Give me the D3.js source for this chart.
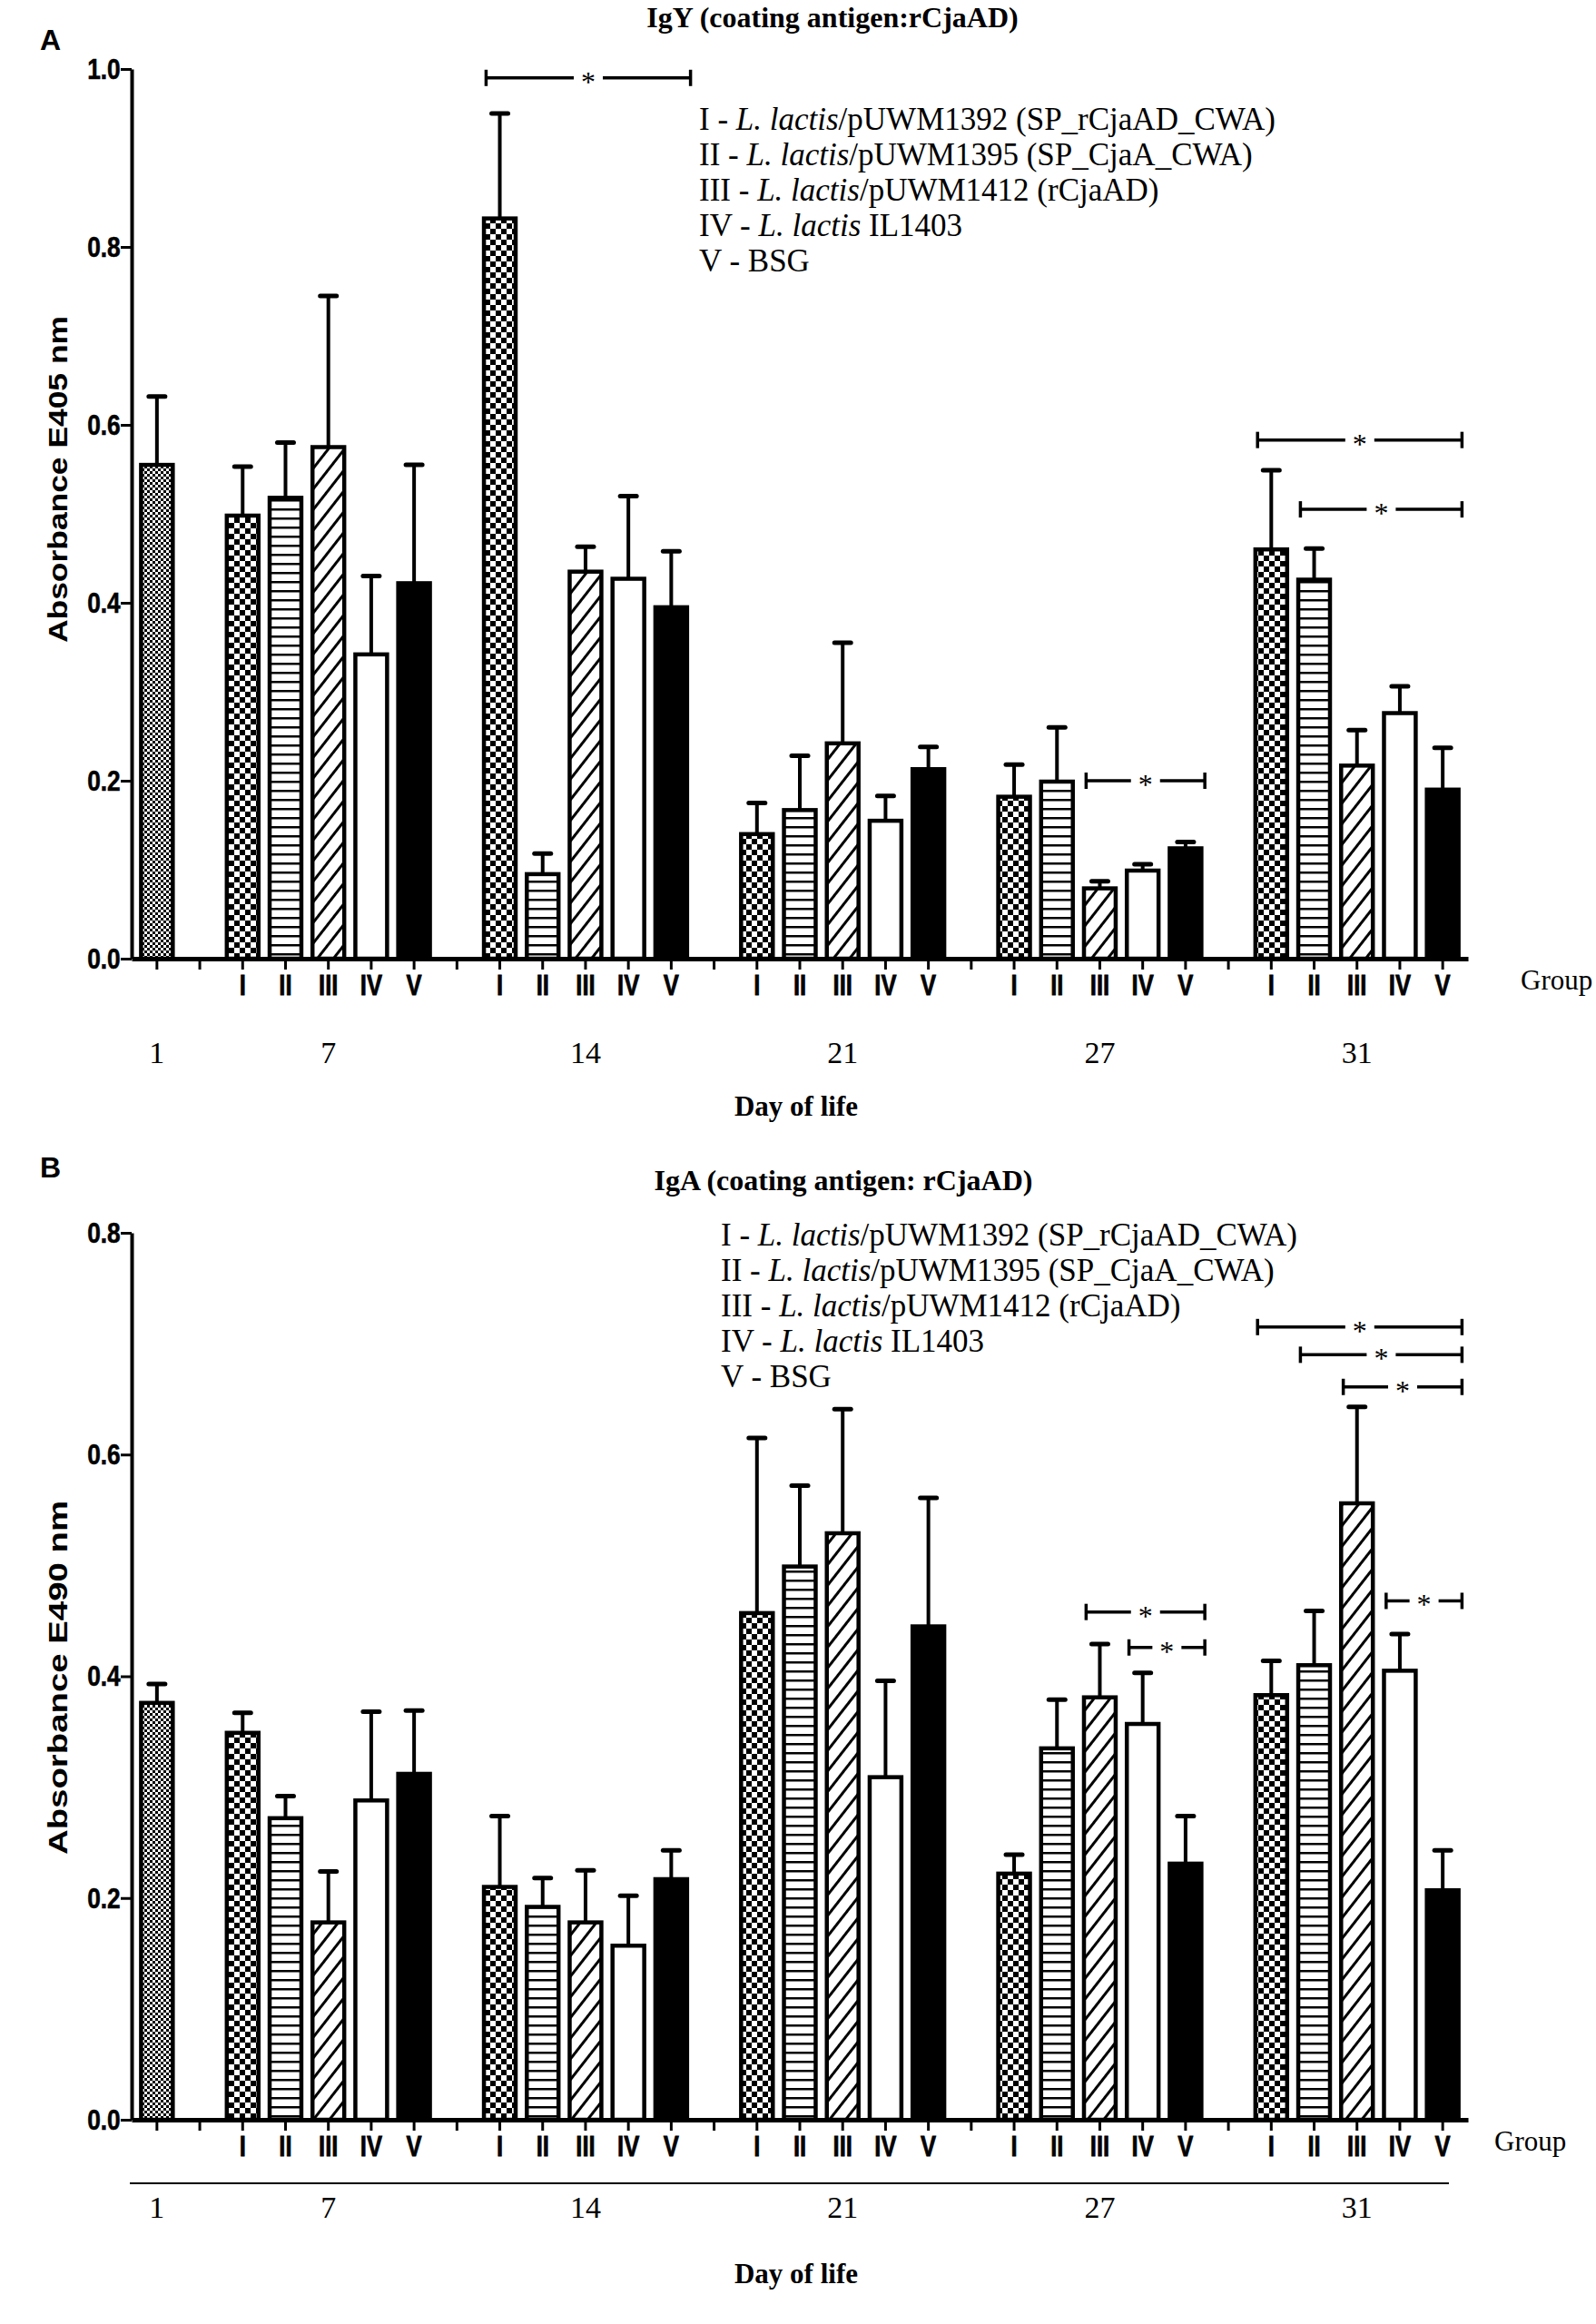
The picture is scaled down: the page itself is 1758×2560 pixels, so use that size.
<!DOCTYPE html>
<html>
<head>
<meta charset="utf-8">
<script src="https://cdn.jsdelivr.net/npm/d3@7"></script>
<style>
body{margin:0;background:#fff;}
</style>
</head>
<body>
<div class="canvas"></div>
<script>
// chart data
const days = ['1','7','14','21','27','31'];
const groups = ['I','II','III','IV','V'];

// IgY, coating antigen rCjaAD (day 1 = one pooled bar)
const igyMean = [[0.555],[0.498,0.518,0.575,0.342,0.422],[0.832,0.095,0.435,0.427,0.395],[0.140,0.167,0.242,0.155,0.213],[0.182,0.199,0.079,0.099,0.124],[0.460,0.426,0.217,0.276,0.190]];
const igySd = [[0.077],[0.055,0.062,0.170,0.088,0.133],[0.118,0.023,0.028,0.093,0.063],[0.035,0.061,0.113,0.028,0.025],[0.036,0.061,0.008,0.007,0.007],[0.089,0.035,0.040,0.030,0.047]];
const igyTicks = [0,0.2,0.4,0.6,0.8,1.0];
// significance brackets: day, from group, to group, level
const igySig = [['14','I','V',0.99],['27','III','V',0.20],['31','I','V',0.583],['31','II','V',0.505]];

// IgA, coating antigen rCjaAD
const igaMean = [[0.376],[0.349,0.272,0.178,0.288,0.312],[0.210,0.192,0.178,0.157,0.217],[0.457,0.499,0.529,0.309,0.445],[0.222,0.335,0.381,0.357,0.231],[0.383,0.410,0.556,0.405,0.207]];
const igaSd = [[0.017],[0.018,0.020,0.046,0.080,0.057],[0.064,0.026,0.047,0.045,0.026],[0.158,0.073,0.112,0.087,0.116],[0.017,0.044,0.048,0.046,0.043],[0.031,0.049,0.087,0.033,0.036]];
const igaTicks = [0,0.2,0.4,0.6,0.8];
const igaSig = [['27','III','V',0.458],['27','IV','V',0.426],['31','I','V',0.715],['31','II','V',0.690],['31','III','V',0.661],['31','IV','V',0.468]];

// legend lines: plain, italic, plain
const legendLines = [
  ['I - ','L. lactis','/pUWM1392 (SP_rCjaAD_CWA)'],
  ['II - ','L. lactis','/pUWM1395 (SP_CjaA_CWA)'],
  ['III - ','L. lactis','/pUWM1412 (rCjaAD)'],
  ['IV - ','L. lactis',' IL1403'],
  ['V - BSG','','']
];

const serif = "'Liberation Serif','Times New Roman',serif";
const narrow = "'Liberation Sans Narrow','Arial Narrow','Liberation Sans',sans-serif";
const sans = "'Liberation Sans',Arial,sans-serif";

const W = 1758, H = 2560;
const svg = d3.select('.canvas')
.append('svg')
.attr('width',W)
.attr('height',H)
.style('background','#fff');

// fill patterns
const defs = svg.append('defs');
const addPattern = (id,w,h,draw,transform) =>{
  const p = defs.append('pattern')
  .attr('id',id)
  .attr('patternUnits','userSpaceOnUse')
  .attr('width',w)
  .attr('height',h);
  if(transform) p.attr('patternTransform',transform);
  p.append('rect').attr('width',w).attr('height',h).attr('fill','#fff');
  draw(p);
};
addPattern('fine',6,6,p=>{
  p.append('rect').attr('width',3).attr('height',3).attr('fill','#000');
  p.append('rect').attr('x',3).attr('y',3).attr('width',3).attr('height',3).attr('fill','#000');
});
addPattern('check',12,12,p=>{
  p.append('rect').attr('width',6).attr('height',6).attr('fill','#000');
  p.append('rect').attr('x',6).attr('y',6).attr('width',6).attr('height',6).attr('fill','#000');
});
addPattern('hlines',10,10,p=>{
  p.append('rect').attr('width',10).attr('height',2.5).attr('fill','#000');
});
addPattern('diag',14,14,p=>{
  p.append('rect').attr('width',3).attr('height',14).attr('fill','#000');
},'rotate(38)');
const groupFill = ['url(#check)','url(#hlines)','url(#diag)','#fff','#000'];

// slots along the x axis: pooled day-1 bar, then gap + five groups per day
const slots = ['1-pool'];
days.slice(1).forEach(d =>{
  slots.push(`gap-${d}`);
  groups.forEach(g => slots.push(`${d}-${g}`));
});

const x = d3.scaleBand()
.domain(slots)
.range([145,1617])
.paddingInner(0.26)
.paddingOuter(0.22);
const cx = s => x(s) + x.bandwidth()/2;

const drawPanel = (cfg) =>{
  const y = d3.scaleLinear()
  .domain([0,cfg.max])
  .range([cfg.bottom,cfg.top]);

  const g = svg.append('g');

  // flatten the bar data
  const bars = [];
  cfg.mean.forEach((vals,i) =>{
    vals.forEach((v,j) =>{
      const slot = i === 0 ? '1-pool' : `${days[i]}-${groups[j]}`;
      const fill = i === 0 ? 'url(#fine)' : groupFill[j];
      bars.push({slot, mean:v, sd:cfg.sd[i][j], fill});
    });
  });

  // error bars (upper only)
  const err = g.selectAll('.err')
  .data(bars)
  .enter()
  .append('g')
  .attr('class','err');
  err.append('line')
  .attr('x1',d => cx(d.slot))
  .attr('x2',d => cx(d.slot))
  .attr('y1',d => y(d.mean))
  .attr('y2',d => y(d.mean + d.sd))
  .attr('stroke','#000')
  .attr('stroke-width',4);
  err.append('line')
  .attr('x1',d => cx(d.slot) - 9)
  .attr('x2',d => cx(d.slot) + 9)
  .attr('y1',d => y(d.mean + d.sd))
  .attr('y2',d => y(d.mean + d.sd))
  .attr('stroke','#000')
  .attr('stroke-width',5)
  .attr('stroke-linecap','round');

  // bars
  g.selectAll('.bar')
  .data(bars)
  .enter()
  .append('rect')
  .attr('class','bar')
  .attr('x',d => x(d.slot))
  .attr('y',d => y(d.mean))
  .attr('width',x.bandwidth())
  .attr('height',d => y(0) - y(d.mean))
  .attr('fill',d => d.fill)
  .attr('stroke','#000')
  .attr('stroke-width',4.5);

  // y axis
  const yAxisGroup = g.append('g')
  .attr('transform','translate(145,0)')
  .call(d3.axisLeft(y).tickValues(cfg.ticks).tickFormat(d3.format('.1f')).tickSize(12).tickPadding(3).tickSizeOuter(0));
  yAxisGroup.select('.domain').attr('stroke-width',4);
  yAxisGroup.selectAll('.tick line').attr('stroke-width',3);
  yAxisGroup.selectAll('text')
  .attr('font-family',narrow)
  .attr('font-weight','bold')
  .attr('font-size',32)
  .attr('transform','scale(0.82,1)')
  .attr('stroke','#000')
  .attr('stroke-width',0.6)
  .attr('fill','#000');

  // x axis with group numerals
  const xAxisGroup = g.append('g')
  .attr('transform',`translate(0,${y(0)})`)
  .call(d3.axisBottom(x).tickSize(12).tickPadding(5).tickSizeOuter(0)
    .tickFormat(s => (s.startsWith('gap') || s === '1-pool') ? '' : s.split('-')[1]));
  xAxisGroup.select('.domain').attr('stroke-width',5);
  xAxisGroup.selectAll('.tick line').attr('stroke-width',3);
  xAxisGroup.selectAll('text')
  .attr('font-family',narrow)
  .attr('font-weight','bold')
  .attr('font-size',32)
  .attr('transform','scale(0.8,1)')
  .attr('stroke','#000')
  .attr('stroke-width',0.8)
  .attr('fill','#000');

  g.append('text')
  .attr('x',cfg.groupX)
  .attr('y',y(0) + 34)
  .attr('font-family',serif)
  .attr('font-size',31)
  .text('Group');

  // day labels
  g.selectAll('.day')
  .data(days)
  .enter()
  .append('text')
  .attr('class','day')
  .attr('x',d => d === '1' ? cx('1-pool') : cx(`${d}-III`))
  .attr('y',cfg.dayY)
  .attr('text-anchor','middle')
  .attr('font-family',serif)
  .attr('font-size',34)
  .text(d => d);

  if(cfg.dayLine){
    g.append('line')
    .attr('x1',143).attr('x2',1596)
    .attr('y1',cfg.dayLine).attr('y2',cfg.dayLine)
    .attr('stroke','#000')
    .attr('stroke-width',2);
  }

  g.append('text')
  .attr('x',877)
  .attr('y',cfg.dayTitleY)
  .attr('text-anchor','middle')
  .attr('font-family',serif)
  .attr('font-weight','bold')
  .attr('font-size',31)
  .text('Day of life');

  // title and panel letter
  g.append('text')
  .attr('x',cfg.titleX)
  .attr('y',cfg.titleY)
  .attr('text-anchor','middle')
  .attr('font-family',serif)
  .attr('font-weight','bold')
  .attr('font-size',32)
  .text(cfg.title);

  g.append('text')
  .attr('x',44)
  .attr('y',cfg.letterY)
  .attr('font-family',sans)
  .attr('font-weight','bold')
  .attr('font-size',32)
  .text(cfg.letter);

  // y axis label
  g.append('text')
  .attr('transform',`translate(${cfg.yLabelX},${cfg.yLabelY}) rotate(-90)`)
  .attr('text-anchor','middle')
  .attr('font-family',sans)
  .attr('font-weight','bold')
  .attr('font-size',30)
  .attr('textLength',cfg.yLabelLen)
  .attr('lengthAdjust','spacingAndGlyphs')
  .text(cfg.yLabel);

  // legend
  const legend = g.selectAll('.legend')
  .data(legendLines)
  .enter()
  .append('text')
  .attr('class','legend')
  .attr('x',cfg.legendX)
  .attr('y',(d,i) => cfg.legendY + i*39)
  .attr('font-family',serif)
  .attr('font-size',35);
  legend.append('tspan').text(d => d[0]);
  legend.append('tspan').attr('font-style','italic').text(d => d[1]);
  legend.append('tspan').text(d => d[2]);

  // significance brackets
  const step = x.step();
  cfg.sig.forEach(([day,from,to,level]) =>{
    const x1 = cx(`${day}-${from}`) - 0.32*step;
    const x2 = cx(`${day}-${to}`) + 0.45*step;
    const mid = (x1 + x2)/2;
    const yy = y(level);
    const sg = g.append('g').attr('stroke','#000').attr('stroke-width',3.5);
    sg.append('line').attr('x1',x1).attr('x2',mid - 16).attr('y1',yy).attr('y2',yy);
    sg.append('line').attr('x1',mid + 16).attr('x2',x2).attr('y1',yy).attr('y2',yy);
    sg.append('line').attr('x1',x1).attr('x2',x1).attr('y1',yy - 9).attr('y2',yy + 9);
    sg.append('line').attr('x1',x2).attr('x2',x2).attr('y1',yy - 9).attr('y2',yy + 9);
    g.append('text')
    .attr('x',mid)
    .attr('y',yy + 15)
    .attr('text-anchor','middle')
    .attr('font-family',serif)
    .attr('font-size',32)
    .text('*');
  });
};

drawPanel({
  letter:'A', letterY:55,
  title:'IgY (coating antigen:rCjaAD)', titleX:917, titleY:30,
  yLabel:'Absorbance E405 nm', yLabelX:74, yLabelY:528, yLabelLen:360,
  max:1.0, top:76, bottom:1056, ticks:igyTicks,
  mean:igyMean, sd:igySd, sig:igySig,
  legendX:770, legendY:143,
  groupX:1675, dayY:1171, dayLine:null, dayTitleY:1229
});

drawPanel({
  letter:'B', letterY:1297,
  title:'IgA (coating antigen: rCjaAD)', titleX:929, titleY:1311,
  yLabel:'Absorbance E490 nm', yLabelX:74, yLabelY:1848, yLabelLen:390,
  max:0.8, top:1358, bottom:2335, ticks:igaTicks,
  mean:igaMean, sd:igaSd, sig:igaSig,
  legendX:794, legendY:1372,
  groupX:1646, dayY:2443, dayLine:2405, dayTitleY:2515
});
</script>
</body>
</html>
